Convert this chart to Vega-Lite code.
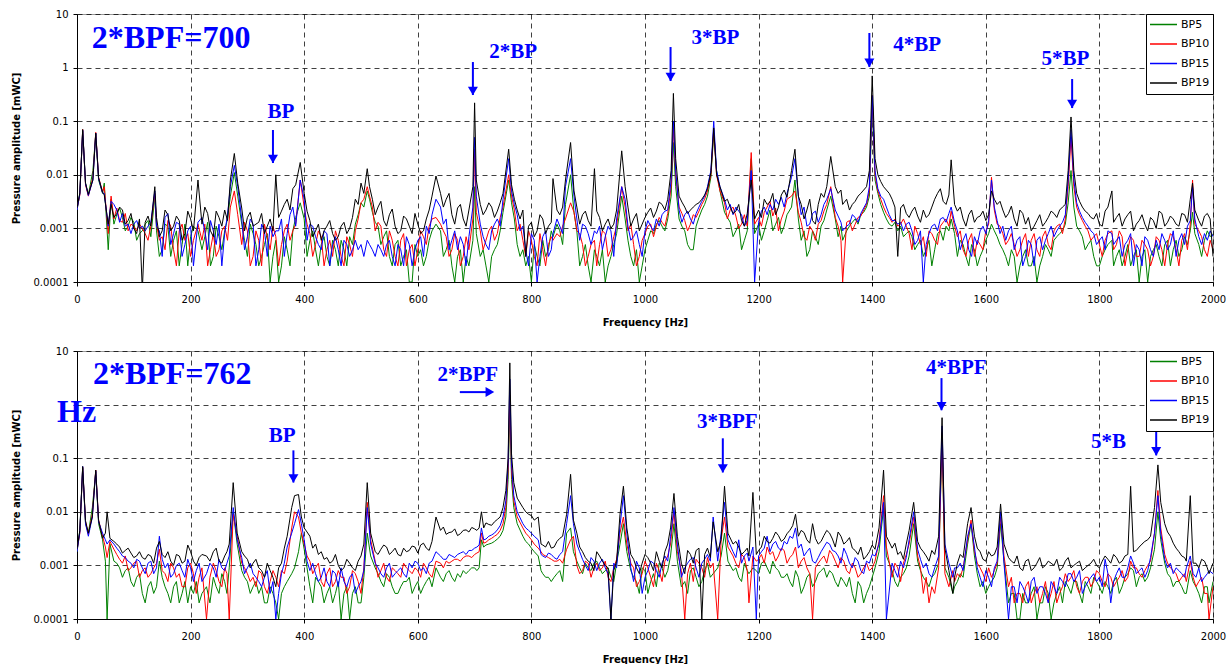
{
"$schema":"https://vega.github.io/schema/vega-lite/v6.json",
"background":"white",
"padding":{"left":10,"top":8,"right":0,"bottom":0},
"spacing":17,
"config":{
 "font":"DejaVu Sans",
 "view":{"stroke":"#999","strokeWidth":1},
 "axis":{"labelFont":"DejaVu Sans","labelFontSize":10,"labelColor":"#000","titleFont":"DejaVu Sans","titleFontSize":10,"titleFontWeight":"bold","titleColor":"#000","domainColor":"#000","tickColor":"#000","tickSize":4,"gridColor":"#000","gridDash":[5,4],"gridOpacity":0.75,"labelFlush":false,"labelOverlap":false},
 "axisX":{"labelPadding":8,"titlePadding":13},
 "axisY":{"labelPadding":5,"titlePadding":12},
 "legend":{"orient":"top-right","offset":0,"padding":3,"strokeColor":"#000","fillColor":"#fff","symbolType":"stroke","symbolSize":729,"symbolStrokeWidth":1.3,"labelFont":"DejaVu Sans","labelFontSize":11,"labelColor":"#000","clipHeight":15,"rowPadding":4.5,"labelOffset":3}
},
"datasets":{
"p1":[
{"f":0,"g":0.0022,"r":0.0023,"b":0.0022,"k":0.0024},
{"f":5,"g":0.0045,"r":0.0042,"b":0.0044,"k":0.0046},
{"f":10,"g":0.065,"r":0.07,"b":0.068,"k":0.07},
{"f":15,"g":0.007,"r":0.0065,"b":0.0068,"k":0.007},
{"f":20,"g":0.0042,"r":0.004,"b":0.0041,"k":0.0043},
{"f":28,"g":0.012,"r":0.009,"b":0.008,"k":0.008},
{"f":33,"g":0.058,"r":0.062,"b":0.06,"k":0.06},
{"f":38,"g":0.008,"r":0.009,"b":0.0085,"k":0.0088},
{"f":45,"g":0.0045,"r":0.0048,"b":0.0046,"k":0.0047},
{"f":48,"g":0.007,"r":0.006,"b":0.0045,"k":0.0042},
{"f":55,"g":0.0004,"r":0.0008,"b":0.0011,"k":0.0012},
{"f":60,"g":0.0035,"r":0.004,"b":0.0032,"k":0.0028},
{"f":70,"g":0.0018,"r":0.0024,"b":0.0022,"k":0.0019},
{"f":80,"g":0.0016,"r":0.0013,"b":0.0019,"k":0.0022},
{"f":90,"g":0.0011,"r":0.0009,"b":0.0012,"k":0.0014},
{"f":100,"g":0.0013,"r":0.0011,"b":0.0012,"k":0.001},
{"f":110,"g":0.0008,"r":0.0012,"b":0.001,"k":0.0015},
{"f":115,"g":0.0009,"r":0.001,"b":0.0011,"k":0.00007},
{"f":120,"g":0.0012,"r":0.0008,"b":0.0009,"k":0.0013},
{"f":130,"g":0.0007,"r":0.0011,"b":0.0013,"k":0.0011},
{"f":137,"g":0.004,"r":0.0045,"b":0.005,"k":0.006},
{"f":140,"g":0.0009,"r":0.0012,"b":0.0011,"k":0.0016},
{"f":150,"g":0.0004,"r":0.0007,"b":0.0003,"k":0.0009},
{"f":160,"g":0.0011,"r":0.0014,"b":0.0019,"k":0.0018},
{"f":170,"g":0.0006,"r":0.0004,"b":0.0008,"k":0.0011},
{"f":180,"g":0.0002,"r":0.0009,"b":0.0012,"k":0.0014},
{"f":190,"g":0.0012,"r":0.0006,"b":0.0005,"k":0.0008},
{"f":200,"g":0.0007,"r":0.0003,"b":0.0011,"k":0.0015},
{"f":213,"g":0.0009,"r":0.0012,"b":0.0013,"k":0.008},
{"f":220,"g":0.0004,"r":0.0006,"b":0.0016,"k":0.0012},
{"f":230,"g":0.0013,"r":0.0002,"b":0.0004,"k":0.0019},
{"f":240,"g":0.0003,"r":0.0008,"b":0.0009,"k":0.0007},
{"f":250,"g":0.0007,"r":0.0004,"b":0.0012,"k":0.0016},
{"f":260,"g":0.0009,"r":0.0011,"b":0.0008,"k":0.0022},
{"f":270,"g":0.004,"r":0.0025,"b":0.006,"k":0.008},
{"f":277,"g":0.011,"r":0.005,"b":0.015,"k":0.025},
{"f":283,"g":0.004,"r":0.0018,"b":0.006,"k":0.007},
{"f":290,"g":0.0012,"r":0.0005,"b":0.0015,"k":0.0024},
{"f":300,"g":0.0003,"r":0.0009,"b":0.0007,"k":0.0016},
{"f":310,"g":0.0008,"r":0.0003,"b":0.0012,"k":0.0011},
{"f":320,"g":0.0002,"r":0.0006,"b":0.0004,"k":0.0013},
{"f":330,"g":0.0005,"r":0.0012,"b":0.0009,"k":0.0008},
{"f":340,"g":0.0001,"r":0.0004,"b":0.0011,"k":0.0015},
{"f":350,"g":0.0006,"r":0.0007,"b":0.0009,"k":0.01},
{"f":360,"g":0.0002,"r":0.0005,"b":0.0015,"k":0.0021},
{"f":370,"g":0.0004,"r":0.0012,"b":0.0008,"k":0.0035},
{"f":380,"g":0.0009,"r":0.0009,"b":0.0025,"k":0.0055},
{"f":393,"g":0.003,"r":0.008,"b":0.008,"k":0.017},
{"f":400,"g":0.0015,"r":0.0025,"b":0.0035,"k":0.0045},
{"f":410,"g":0.0006,"r":0.0008,"b":0.0012,"k":0.0014},
{"f":420,"g":0.0004,"r":0.0005,"b":0.0007,"k":0.0009},
{"f":430,"g":0.0005,"r":0.0007,"b":0.0004,"k":0.0006},
{"f":440,"g":0.0003,"r":0.0004,"b":0.0008,"k":0.0011},
{"f":450,"g":0.0006,"r":0.0003,"b":0.0005,"k":0.0008},
{"f":460,"g":0.0002,"r":0.0006,"b":0.0004,"k":0.0007},
{"f":470,"g":0.0004,"r":0.0002,"b":0.0006,"k":0.0013},
{"f":480,"g":0.0007,"r":0.0005,"b":0.0003,"k":0.001},
{"f":490,"g":0.0012,"r":0.0009,"b":0.0006,"k":0.0035},
{"f":500,"g":0.003,"r":0.003,"b":0.0005,"k":0.007},
{"f":511,"g":0.005,"r":0.006,"b":0.0006,"k":0.013},
{"f":520,"g":0.002,"r":0.0025,"b":0.0004,"k":0.0035},
{"f":530,"g":0.0011,"r":0.0013,"b":0.0005,"k":0.0025},
{"f":540,"g":0.0007,"r":0.0004,"b":0.0003,"k":0.0014},
{"f":550,"g":0.0003,"r":0.0009,"b":0.0006,"k":0.0018},
{"f":560,"g":0.0005,"r":0.0003,"b":0.0002,"k":0.0011},
{"f":570,"g":0.0002,"r":0.0006,"b":0.0004,"k":0.0009},
{"f":580,"g":0.0004,"r":0.0002,"b":0.0007,"k":0.0015},
{"f":590,"g":0.0001,"r":0.0005,"b":0.0002,"k":0.0008},
{"f":600,"g":0.0003,"r":0.0004,"b":0.0006,"k":0.0012},
{"f":610,"g":0.0002,"r":0.0007,"b":0.0003,"k":0.0009},
{"f":620,"g":0.0006,"r":0.0011,"b":0.0008,"k":0.0022},
{"f":632,"g":0.0012,"r":0.0016,"b":0.0035,"k":0.0095},
{"f":640,"g":0.0009,"r":0.0012,"b":0.0025,"k":0.0045},
{"f":650,"g":0.0004,"r":0.0007,"b":0.0015,"k":0.0035},
{"f":660,"g":0.0002,"r":0.0004,"b":0.0006,"k":0.0018},
{"f":670,"g":0.0003,"r":0.0006,"b":0.0004,"k":0.0024},
{"f":680,"g":0.0001,"r":0.0003,"b":0.0005,"k":0.0015},
{"f":690,"g":0.0002,"r":0.0004,"b":0.0007,"k":0.0022},
{"f":697,"g":0.0006,"r":0.0015,"b":0.0025,"k":0.006},
{"f":700,"g":0.006,"r":0.03,"b":0.05,"k":0.22},
{"f":703,"g":0.0008,"r":0.002,"b":0.004,"k":0.008},
{"f":710,"g":0.0003,"r":0.0009,"b":0.0012,"k":0.0028},
{"f":720,"g":0.0002,"r":0.0006,"b":0.0005,"k":0.0022},
{"f":730,"g":0.0003,"r":0.0011,"b":0.0009,"k":0.0025},
{"f":740,"g":0.0005,"r":0.0008,"b":0.0015,"k":0.0021},
{"f":750,"g":0.002,"r":0.0025,"b":0.0035,"k":0.0045},
{"f":760,"g":0.008,"r":0.01,"b":0.02,"k":0.03},
{"f":765,"g":0.003,"r":0.004,"b":0.005,"k":0.0065},
{"f":770,"g":0.0015,"r":0.0022,"b":0.0028,"k":0.0035},
{"f":780,"g":0.0003,"r":0.0012,"b":0.0009,"k":0.0015},
{"f":790,"g":0.0002,"r":0.0003,"b":0.0004,"k":0.0003},
{"f":800,"g":0.0001,"r":0.0006,"b":0.0008,"k":0.0013},
{"f":810,"g":0.0003,"r":0.0002,"b":0.0001,"k":0.0009},
{"f":820,"g":0.0006,"r":0.0004,"b":0.0007,"k":0.0015},
{"f":830,"g":0.0004,"r":0.0005,"b":0.0003,"k":0.0011},
{"f":838,"g":0.0007,"r":0.0006,"b":0.0008,"k":0.0085},
{"f":845,"g":0.0012,"r":0.0008,"b":0.0015,"k":0.0022},
{"f":850,"g":0.0009,"r":0.0007,"b":0.0011,"k":0.0018},
{"f":860,"g":0.0028,"r":0.0015,"b":0.006,"k":0.008},
{"f":869,"g":0.01,"r":0.003,"b":0.02,"k":0.04},
{"f":875,"g":0.002,"r":0.002,"b":0.004,"k":0.005},
{"f":880,"g":0.0009,"r":0.0009,"b":0.0015,"k":0.0025},
{"f":890,"g":0.0003,"r":0.0005,"b":0.0012,"k":0.0018},
{"f":900,"g":0.0002,"r":0.0003,"b":0.0008,"k":0.0014},
{"f":911,"g":0.0004,"r":0.0006,"b":0.0009,"k":0.013},
{"f":920,"g":0.0002,"r":0.0005,"b":0.0011,"k":0.0016},
{"f":930,"g":0.0001,"r":0.0008,"b":0.0007,"k":0.0012},
{"f":940,"g":0.0003,"r":0.0004,"b":0.0009,"k":0.001},
{"f":950,"g":0.0008,"r":0.0011,"b":0.0015,"k":0.0022},
{"f":959,"g":0.004,"r":0.006,"b":0.006,"k":0.028},
{"f":965,"g":0.0015,"r":0.0025,"b":0.0035,"k":0.006},
{"f":970,"g":0.0006,"r":0.0009,"b":0.0011,"k":0.0025},
{"f":980,"g":0.0002,"r":0.0005,"b":0.0007,"k":0.0015},
{"f":990,"g":0.0001,"r":0.0003,"b":0.0005,"k":0.0009},
{"f":1000,"g":0.0004,"r":0.0008,"b":0.0009,"k":0.0016},
{"f":1010,"g":0.0009,"r":0.0012,"b":0.0011,"k":0.0024},
{"f":1020,"g":0.0012,"r":0.0011,"b":0.0015,"k":0.0021},
{"f":1030,"g":0.0011,"r":0.0013,"b":0.0018,"k":0.0028},
{"f":1040,"g":0.0015,"r":0.0019,"b":0.0022,"k":0.0035},
{"f":1046,"g":0.004,"r":0.006,"b":0.008,"k":0.012},
{"f":1050,"g":0.04,"r":0.08,"b":0.1,"k":0.33},
{"f":1054,"g":0.006,"r":0.01,"b":0.012,"k":0.02},
{"f":1060,"g":0.0015,"r":0.0025,"b":0.0022,"k":0.004},
{"f":1070,"g":0.0009,"r":0.0014,"b":0.0018,"k":0.0025},
{"f":1080,"g":0.0004,"r":0.0012,"b":0.0015,"k":0.0022},
{"f":1090,"g":0.0011,"r":0.0016,"b":0.0019,"k":0.0028},
{"f":1100,"g":0.0022,"r":0.0028,"b":0.0032,"k":0.0035},
{"f":1110,"g":0.004,"r":0.005,"b":0.006,"k":0.0055},
{"f":1116,"g":0.009,"r":0.01,"b":0.012,"k":0.011},
{"f":1121,"g":0.06,"r":0.07,"b":0.1,"k":0.075},
{"f":1126,"g":0.012,"r":0.01,"b":0.012,"k":0.01},
{"f":1132,"g":0.005,"r":0.005,"b":0.006,"k":0.006},
{"f":1140,"g":0.002,"r":0.003,"b":0.0035,"k":0.0032},
{"f":1150,"g":0.0013,"r":0.0022,"b":0.0028,"k":0.0025},
{"f":1160,"g":0.0009,"r":0.0017,"b":0.0025,"k":0.0021},
{"f":1170,"g":0.0004,"r":0.0012,"b":0.0018,"k":0.0014},
{"f":1180,"g":0.0009,"r":0.0011,"b":0.0014,"k":0.0019},
{"f":1187,"g":0.02,"r":0.026,"b":0.012,"k":0.008},
{"f":1193,"g":0.0008,"r":0.0012,"b":0.0001,"k":0.0015},
{"f":1200,"g":0.0012,"r":0.0016,"b":0.0013,"k":0.0022},
{"f":1210,"g":0.0009,"r":0.002,"b":0.0025,"k":0.0035},
{"f":1220,"g":0.0022,"r":0.0032,"b":0.0028,"k":0.0031},
{"f":1230,"g":0.0012,"r":0.0024,"b":0.0035,"k":0.0018},
{"f":1240,"g":0.0008,"r":0.0015,"b":0.0038,"k":0.0042},
{"f":1250,"g":0.0018,"r":0.0035,"b":0.0045,"k":0.0038},
{"f":1258,"g":0.0025,"r":0.004,"b":0.009,"k":0.012},
{"f":1264,"g":0.008,"r":0.005,"b":0.02,"k":0.03},
{"f":1270,"g":0.0015,"r":0.002,"b":0.004,"k":0.004},
{"f":1280,"g":0.0009,"r":0.0007,"b":0.0025,"k":0.0015},
{"f":1290,"g":0.0004,"r":0.0011,"b":0.0012,"k":0.0035},
{"f":1300,"g":0.0007,"r":0.0006,"b":0.0021,"k":0.0012},
{"f":1310,"g":0.0011,"r":0.0014,"b":0.0018,"k":0.0045},
{"f":1320,"g":0.0022,"r":0.0028,"b":0.0035,"k":0.006},
{"f":1327,"g":0.004,"r":0.006,"b":0.0055,"k":0.022},
{"f":1335,"g":0.0015,"r":0.0016,"b":0.0022,"k":0.006},
{"f":1340,"g":0.0007,"r":0.0011,"b":0.0017,"k":0.0045},
{"f":1348,"g":0.0006,"r":0.0001,"b":0.0009,"k":0.0028},
{"f":1355,"g":0.0009,"r":0.0013,"b":0.0011,"k":0.0035},
{"f":1360,"g":0.0011,"r":0.0014,"b":0.0012,"k":0.0022},
{"f":1370,"g":0.0015,"r":0.0012,"b":0.0016,"k":0.0032},
{"f":1380,"g":0.0018,"r":0.0017,"b":0.0019,"k":0.0045},
{"f":1390,"g":0.0025,"r":0.0028,"b":0.003,"k":0.006},
{"f":1395,"g":0.004,"r":0.005,"b":0.006,"k":0.012},
{"f":1400,"g":0.2,"r":0.3,"b":0.3,"k":0.7},
{"f":1405,"g":0.008,"r":0.01,"b":0.012,"k":0.02},
{"f":1410,"g":0.0045,"r":0.005,"b":0.0055,"k":0.01},
{"f":1420,"g":0.002,"r":0.0025,"b":0.0035,"k":0.006},
{"f":1430,"g":0.0012,"r":0.0016,"b":0.0018,"k":0.0045},
{"f":1440,"g":0.0013,"r":0.0015,"b":0.0014,"k":0.0025},
{"f":1445,"g":0.0009,"r":0.0011,"b":0.0012,"k":0.0003},
{"f":1450,"g":0.0011,"r":0.0012,"b":0.0013,"k":0.0024},
{"f":1460,"g":0.0008,"r":0.0011,"b":0.0012,"k":0.0019},
{"f":1470,"g":0.0007,"r":0.0004,"b":0.0009,"k":0.0021},
{"f":1480,"g":0.0005,"r":0.0008,"b":0.0006,"k":0.0017},
{"f":1490,"g":0.0003,"r":0.0007,"b":0.0001,"k":0.0022},
{"f":1500,"g":0.0006,"r":0.0009,"b":0.0008,"k":0.0018},
{"f":1510,"g":0.0004,"r":0.0006,"b":0.0012,"k":0.0035},
{"f":1520,"g":0.0009,"r":0.0011,"b":0.0015,"k":0.0055},
{"f":1530,"g":0.0011,"r":0.0015,"b":0.0013,"k":0.0028},
{"f":1539,"g":0.0015,"r":0.0021,"b":0.0025,"k":0.019},
{"f":1545,"g":0.0008,"r":0.0011,"b":0.0013,"k":0.0028},
{"f":1550,"g":0.0003,"r":0.0007,"b":0.0009,"k":0.0021},
{"f":1560,"g":0.0005,"r":0.0004,"b":0.0006,"k":0.0015},
{"f":1570,"g":0.0002,"r":0.0006,"b":0.0004,"k":0.0018},
{"f":1580,"g":0.0004,"r":0.0003,"b":0.0007,"k":0.0013},
{"f":1590,"g":0.0003,"r":0.0005,"b":0.0009,"k":0.0017},
{"f":1600,"g":0.0006,"r":0.0009,"b":0.0008,"k":0.0014},
{"f":1610,"g":0.0012,"r":0.009,"b":0.008,"k":0.005},
{"f":1615,"g":0.0009,"r":0.0022,"b":0.0025,"k":0.0035},
{"f":1620,"g":0.0007,"r":0.0012,"b":0.0014,"k":0.0028},
{"f":1630,"g":0.0004,"r":0.0008,"b":0.0011,"k":0.0022},
{"f":1640,"g":0.0002,"r":0.0006,"b":0.0009,"k":0.0019},
{"f":1650,"g":0.0003,"r":0.0005,"b":0.0004,"k":0.0015},
{"f":1660,"g":0.0002,"r":0.0004,"b":0.0007,"k":0.0022},
{"f":1670,"g":0.0004,"r":0.0008,"b":0.0003,"k":0.0012},
{"f":1680,"g":0.0002,"r":0.0006,"b":0.0005,"k":0.0009},
{"f":1690,"g":0.0001,"r":0.0004,"b":0.0006,"k":0.0014},
{"f":1700,"g":0.0003,"r":0.0007,"b":0.0004,"k":0.0011},
{"f":1710,"g":0.0004,"r":0.0005,"b":0.0008,"k":0.0016},
{"f":1720,"g":0.0006,"r":0.0009,"b":0.0007,"k":0.0019},
{"f":1730,"g":0.0008,"r":0.0012,"b":0.0011,"k":0.0022},
{"f":1740,"g":0.0012,"r":0.0015,"b":0.0018,"k":0.0028},
{"f":1745,"g":0.003,"r":0.006,"b":0.008,"k":0.012},
{"f":1750,"g":0.012,"r":0.05,"b":0.07,"k":0.12},
{"f":1755,"g":0.0025,"r":0.006,"b":0.008,"k":0.012},
{"f":1760,"g":0.0011,"r":0.0025,"b":0.003,"k":0.0045},
{"f":1770,"g":0.0007,"r":0.0014,"b":0.0016,"k":0.0025},
{"f":1780,"g":0.0005,"r":0.0009,"b":0.0011,"k":0.0019},
{"f":1790,"g":0.0003,"r":0.0007,"b":0.0008,"k":0.0015},
{"f":1800,"g":0.0002,"r":0.0005,"b":0.0006,"k":0.0012},
{"f":1810,"g":0.0004,"r":0.0006,"b":0.0004,"k":0.0021},
{"f":1822,"g":0.0006,"r":0.0009,"b":0.0008,"k":0.005},
{"f":1830,"g":0.0003,"r":0.0005,"b":0.0006,"k":0.0016},
{"f":1840,"g":0.0002,"r":0.0007,"b":0.0003,"k":0.0011},
{"f":1850,"g":0.0005,"r":0.0004,"b":0.0006,"k":0.0018},
{"f":1860,"g":0.0003,"r":0.0006,"b":0.0002,"k":0.0009},
{"f":1870,"g":0.0001,"r":0.0003,"b":0.0004,"k":0.0014},
{"f":1880,"g":0.0004,"r":0.0005,"b":0.0007,"k":0.0012},
{"f":1890,"g":0.0003,"r":0.0002,"b":0.0004,"k":0.0016},
{"f":1900,"g":0.0005,"r":0.0007,"b":0.0006,"k":0.001},
{"f":1910,"g":0.0002,"r":0.0004,"b":0.0008,"k":0.0019},
{"f":1920,"g":0.0006,"r":0.0005,"b":0.0004,"k":0.0013},
{"f":1930,"g":0.0004,"r":0.0007,"b":0.0009,"k":0.0015},
{"f":1940,"g":0.0003,"r":0.0002,"b":0.0006,"k":0.0011},
{"f":1950,"g":0.0007,"r":0.0008,"b":0.0005,"k":0.0018},
{"f":1960,"g":0.0009,"r":0.0012,"b":0.0014,"k":0.0035},
{"f":1964,"g":0.002,"r":0.008,"b":0.006,"k":0.007},
{"f":1968,"g":0.0008,"r":0.0012,"b":0.0015,"k":0.0022},
{"f":1975,"g":0.0005,"r":0.0009,"b":0.0007,"k":0.0014},
{"f":1985,"g":0.0006,"r":0.0004,"b":0.0008,"k":0.0017},
{"f":1995,"g":0.0007,"r":0.0006,"b":0.0009,"k":0.0015},
{"f":2000,"g":0.0008,"r":0.0004,"b":0.0007,"k":0.0003},
{"f":65,"g":0.0012,"r":0.0015,"b":0.0028,"k":0.0016},
{"f":75,"g":0.0024,"r":0.0014,"b":0.0013,"k":0.0025},
{"f":85,"g":0.0009,"r":0.0019,"b":0.0011,"k":0.0012},
{"f":95,"g":0.0016,"r":0.0012,"b":0.0008,"k":0.0019},
{"f":105,"g":0.0006,"r":0.0009,"b":0.0014,"k":0.0008},
{"f":125,"g":0.0014,"r":0.0006,"b":0.0011,"k":0.0017},
{"f":145,"g":0.0003,"r":0.0006,"b":0.0009,"k":0.0007},
{"f":155,"g":0.0012,"r":0.0004,"b":0.0016,"k":0.0022},
{"f":165,"g":0.0003,"r":0.0011,"b":0.0005,"k":0.0009},
{"f":175,"g":0.0009,"r":0.0002,"b":0.0013,"k":0.0017},
{"f":185,"g":0.0005,"r":0.0012,"b":0.0003,"k":0.0006},
{"f":195,"g":0.0002,"r":0.0008,"b":0.0009,"k":0.0021},
{"f":205,"g":0.0011,"r":0.0006,"b":0.0002,"k":0.0009},
{"f":225,"g":0.0007,"r":0.0012,"b":0.0009,"k":0.0025},
{"f":235,"g":0.0002,"r":0.0004,"b":0.0014,"k":0.0009},
{"f":245,"g":0.0011,"r":0.0003,"b":0.0005,"k":0.0021},
{"f":255,"g":0.0004,"r":0.0009,"b":0.0002,"k":0.0011},
{"f":265,"g":0.0015,"r":0.0006,"b":0.0018,"k":0.0014},
{"f":295,"g":0.0006,"r":0.0013,"b":0.0004,"k":0.0009},
{"f":305,"g":0.0012,"r":0.0002,"b":0.0015,"k":0.002},
{"f":315,"g":0.0005,"r":0.0009,"b":0.0002,"k":0.0012},
{"f":325,"g":0.0003,"r":0.0002,"b":0.0012,"k":0.0019},
{"f":335,"g":0.0008,"r":0.0007,"b":0.0003,"k":0.0011},
{"f":345,"g":0.0003,"r":0.0011,"b":0.0007,"k":0.0009},
{"f":355,"g":0.0001,"r":0.0002,"b":0.0009,"k":0.0016},
{"f":365,"g":0.0007,"r":0.0009,"b":0.0003,"k":0.0028},
{"f":375,"g":0.0002,"r":0.0006,"b":0.0018,"k":0.0022},
{"f":385,"g":0.0016,"r":0.0012,"b":0.0011,"k":0.0065},
{"f":405,"g":0.0003,"r":0.0012,"b":0.0006,"k":0.0021},
{"f":415,"g":0.0009,"r":0.0003,"b":0.0011,"k":0.0007},
{"f":425,"g":0.0002,"r":0.0009,"b":0.0005,"k":0.0012},
{"f":435,"g":0.0007,"r":0.0002,"b":0.0009,"k":0.0009},
{"f":445,"g":0.0002,"r":0.0006,"b":0.0002,"k":0.0014},
{"f":455,"g":0.0004,"r":0.0009,"b":0.0007,"k":0.0006},
{"f":465,"g":0.0006,"r":0.0003,"b":0.0002,"k":0.0011},
{"f":475,"g":0.0002,"r":0.0007,"b":0.0005,"k":0.0008},
{"f":485,"g":0.0005,"r":0.0003,"b":0.0004,"k":0.0016},
{"f":495,"g":0.0018,"r":0.0015,"b":0.0004,"k":0.0028},
{"f":505,"g":0.0025,"r":0.0035,"b":0.0003,"k":0.0045},
{"f":515,"g":0.0035,"r":0.004,"b":0.0005,"k":0.006},
{"f":525,"g":0.0013,"r":0.0009,"b":0.0003,"k":0.0018},
{"f":535,"g":0.0005,"r":0.0011,"b":0.0004,"k":0.0032},
{"f":545,"g":0.0009,"r":0.0003,"b":0.0005,"k":0.0011},
{"f":555,"g":0.0002,"r":0.0006,"b":0.0003,"k":0.0023},
{"f":565,"g":0.0006,"r":0.0002,"b":0.0005,"k":0.0008},
{"f":575,"g":0.0003,"r":0.0008,"b":0.0002,"k":0.0017},
{"f":585,"g":0.0001,"r":0.0004,"b":0.0005,"k":0.0011},
{"f":595,"g":0.0005,"r":0.0002,"b":0.0004,"k":0.0019},
{"f":605,"g":0.0004,"r":0.0009,"b":0.0007,"k":0.0008},
{"f":615,"g":0.0003,"r":0.0005,"b":0.0011,"k":0.0015},
{"f":625,"g":0.0009,"r":0.0015,"b":0.0018,"k":0.004},
{"f":645,"g":0.0003,"r":0.0009,"b":0.0012,"k":0.0025},
{"f":655,"g":0.0006,"r":0.0003,"b":0.0004,"k":0.0045},
{"f":665,"g":0.0001,"r":0.0008,"b":0.0009,"k":0.0012},
{"f":675,"g":0.0004,"r":0.0002,"b":0.0007,"k":0.0028},
{"f":685,"g":0.0003,"r":0.0007,"b":0.0002,"k":0.0011},
{"f":715,"g":0.0004,"r":0.0004,"b":0.0007,"k":0.0018},
{"f":725,"g":0.0001,"r":0.0009,"b":0.0004,"k":0.003},
{"f":735,"g":0.0004,"r":0.0006,"b":0.0012,"k":0.0016},
{"f":745,"g":0.0009,"r":0.0016,"b":0.0011,"k":0.003},
{"f":775,"g":0.0005,"r":0.0009,"b":0.0018,"k":0.0022},
{"f":785,"g":0.0004,"r":0.0006,"b":0.0011,"k":0.0022},
{"f":795,"g":0.0003,"r":0.0009,"b":0.0002,"k":0.0011},
{"f":805,"g":0.0005,"r":0.0003,"b":0.0006,"k":0.0007},
{"f":815,"g":0.0002,"r":0.0008,"b":0.0003,"k":0.0018},
{"f":825,"g":0.0003,"r":0.0002,"b":0.0009,"k":0.0008},
{"f":835,"g":0.0009,"r":0.0007,"b":0.0004,"k":0.0013},
{"f":855,"g":0.0005,"r":0.0011,"b":0.0008,"k":0.0025},
{"f":885,"g":0.0002,"r":0.0008,"b":0.0006,"k":0.0012},
{"f":895,"g":0.0005,"r":0.0002,"b":0.0011,"k":0.0021},
{"f":905,"g":0.0001,"r":0.0005,"b":0.0005,"k":0.0011},
{"f":915,"g":0.0003,"r":0.0002,"b":0.0008,"k":0.0021},
{"f":925,"g":0.0004,"r":0.0009,"b":0.0004,"k":0.0009},
{"f":935,"g":0.0002,"r":0.0003,"b":0.0011,"k":0.0015},
{"f":945,"g":0.0005,"r":0.0007,"b":0.0003,"k":0.0012},
{"f":975,"g":0.0003,"r":0.0012,"b":0.0006,"k":0.0011},
{"f":985,"g":0.0004,"r":0.0002,"b":0.0009,"k":0.0019},
{"f":995,"g":0.0002,"r":0.0006,"b":0.0003,"k":0.0012},
{"f":1005,"g":0.0006,"r":0.0011,"b":0.0014,"k":0.002},
{"f":1015,"g":0.0008,"r":0.0007,"b":0.0009,"k":0.0016},
{"f":1025,"g":0.0014,"r":0.0016,"b":0.0011,"k":0.0031},
{"f":1035,"g":0.0009,"r":0.0011,"b":0.0021,"k":0.0022},
{"f":1065,"g":0.0011,"r":0.0019,"b":0.0013,"k":0.0031},
{"f":1075,"g":0.0005,"r":0.0009,"b":0.0021,"k":0.0019},
{"f":1085,"g":0.0004,"r":0.0018,"b":0.0012,"k":0.0025},
{"f":1095,"g":0.0016,"r":0.0021,"b":0.0025,"k":0.003},
{"f":1105,"g":0.0028,"r":0.0035,"b":0.004,"k":0.0042},
{"f":1145,"g":0.0016,"r":0.0015,"b":0.0022,"k":0.0035},
{"f":1155,"g":0.0007,"r":0.0025,"b":0.0018,"k":0.0019},
{"f":1165,"g":0.0012,"r":0.001,"b":0.0021,"k":0.0028},
{"f":1175,"g":0.0006,"r":0.0018,"b":0.0011,"k":0.0011},
{"f":1205,"g":0.0006,"r":0.0011,"b":0.0021,"k":0.0016},
{"f":1215,"g":0.0014,"r":0.0025,"b":0.0018,"k":0.0028},
{"f":1225,"g":0.0009,"r":0.0017,"b":0.0022,"k":0.0045},
{"f":1235,"g":0.0016,"r":0.0009,"b":0.0028,"k":0.0025},
{"f":1245,"g":0.0011,"r":0.0021,"b":0.0025,"k":0.0052},
{"f":1275,"g":0.0006,"r":0.0013,"b":0.0018,"k":0.0028},
{"f":1285,"g":0.0003,"r":0.0006,"b":0.0011,"k":0.0022},
{"f":1295,"g":0.0009,"r":0.0009,"b":0.0019,"k":0.0014},
{"f":1305,"g":0.0005,"r":0.0012,"b":0.0013,"k":0.0028},
{"f":1315,"g":0.0014,"r":0.0021,"b":0.0028,"k":0.0038},
{"f":1345,"g":0.0011,"r":0.0006,"b":0.0013,"k":0.0052},
{"f":1365,"g":0.0013,"r":0.0009,"b":0.0018,"k":0.0028},
{"f":1375,"g":0.0012,"r":0.0016,"b":0.0013,"k":0.004},
{"f":1385,"g":0.002,"r":0.0022,"b":0.0024,"k":0.0052},
{"f":1415,"g":0.0028,"r":0.0035,"b":0.004,"k":0.0075},
{"f":1425,"g":0.0015,"r":0.0019,"b":0.0025,"k":0.0052},
{"f":1435,"g":0.0011,"r":0.0013,"b":0.0014,"k":0.0035},
{"f":1455,"g":0.0007,"r":0.0015,"b":0.0009,"k":0.0028},
{"f":1465,"g":0.0009,"r":0.0008,"b":0.0013,"k":0.0016},
{"f":1475,"g":0.0004,"r":0.0011,"b":0.0005,"k":0.0025},
{"f":1485,"g":0.0006,"r":0.0005,"b":0.0009,"k":0.0013},
{"f":1495,"g":0.0004,"r":0.0003,"b":0.0005,"k":0.0016},
{"f":1505,"g":0.0002,"r":0.0008,"b":0.0011,"k":0.0025},
{"f":1515,"g":0.0008,"r":0.0005,"b":0.0009,"k":0.0045},
{"f":1525,"g":0.0006,"r":0.0013,"b":0.0016,"k":0.0032},
{"f":1535,"g":0.0009,"r":0.0011,"b":0.0019,"k":0.0042},
{"f":1555,"g":0.0006,"r":0.0009,"b":0.0004,"k":0.0025},
{"f":1565,"g":0.0003,"r":0.0003,"b":0.0008,"k":0.0011},
{"f":1575,"g":0.0005,"r":0.0008,"b":0.0003,"k":0.0022},
{"f":1585,"g":0.0002,"r":0.0006,"b":0.0005,"k":0.0016},
{"f":1595,"g":0.0004,"r":0.0004,"b":0.0011,"k":0.0021},
{"f":1605,"g":0.0008,"r":0.0012,"b":0.0014,"k":0.0018},
{"f":1625,"g":0.0005,"r":0.0011,"b":0.0008,"k":0.0032},
{"f":1635,"g":0.0003,"r":0.0005,"b":0.0006,"k":0.0016},
{"f":1645,"g":0.0004,"r":0.0008,"b":0.0011,"k":0.0026},
{"f":1655,"g":0.0001,"r":0.0003,"b":0.0006,"k":0.0011},
{"f":1665,"g":0.0003,"r":0.0006,"b":0.0002,"k":0.0019},
{"f":1675,"g":0.0002,"r":0.0003,"b":0.0006,"k":0.0016},
{"f":1685,"g":0.0003,"r":0.0008,"b":0.0002,"k":0.0011},
{"f":1695,"g":0.0002,"r":0.0003,"b":0.0007,"k":0.0018},
{"f":1705,"g":0.0005,"r":0.0009,"b":0.0006,"k":0.0013},
{"f":1715,"g":0.0003,"r":0.0004,"b":0.0011,"k":0.0021},
{"f":1725,"g":0.0007,"r":0.0011,"b":0.0009,"k":0.0016},
{"f":1735,"g":0.0009,"r":0.0008,"b":0.0013,"k":0.0025},
{"f":1765,"g":0.0009,"r":0.0018,"b":0.0021,"k":0.0032},
{"f":1775,"g":0.0004,"r":0.0011,"b":0.0013,"k":0.0021},
{"f":1785,"g":0.0006,"r":0.0006,"b":0.0009,"k":0.0016},
{"f":1795,"g":0.0002,"r":0.0008,"b":0.0005,"k":0.0019},
{"f":1805,"g":0.0003,"r":0.0003,"b":0.0007,"k":0.0011},
{"f":1815,"g":0.0005,"r":0.0008,"b":0.0009,"k":0.0025},
{"f":1825,"g":0.0002,"r":0.0004,"b":0.0005,"k":0.0013},
{"f":1835,"g":0.0004,"r":0.0009,"b":0.0007,"k":0.0019},
{"f":1845,"g":0.0003,"r":0.0002,"b":0.0005,"k":0.0015},
{"f":1855,"g":0.0002,"r":0.0007,"b":0.0008,"k":0.0021},
{"f":1865,"g":0.0004,"r":0.0003,"b":0.0005,"k":0.0012},
{"f":1875,"g":0.0003,"r":0.0006,"b":0.0002,"k":0.0018},
{"f":1885,"g":0.0001,"r":0.0004,"b":0.0006,"k":0.0009},
{"f":1895,"g":0.0004,"r":0.0003,"b":0.0003,"k":0.0014},
{"f":1905,"g":0.0003,"r":0.0006,"b":0.0004,"k":0.0021},
{"f":1915,"g":0.0005,"r":0.0002,"b":0.0006,"k":0.0011},
{"f":1925,"g":0.0002,"r":0.0008,"b":0.0005,"k":0.0017},
{"f":1935,"g":0.0006,"r":0.0004,"b":0.0003,"k":0.0012},
{"f":1945,"g":0.0004,"r":0.0006,"b":0.0008,"k":0.0019},
{"f":1955,"g":0.0005,"r":0.0004,"b":0.0011,"k":0.0013},
{"f":1980,"g":0.0003,"r":0.0007,"b":0.0005,"k":0.0011},
{"f":1990,"g":0.0009,"r":0.0003,"b":0.0006,"k":0.0019}
],
"p2":[
{"f":0,"g":0.0018,"r":0.0019,"b":0.0018,"k":0.002},
{"f":5,"g":0.0045,"r":0.004,"b":0.0042,"k":0.0045},
{"f":10,"g":0.065,"r":0.068,"b":0.07,"k":0.07},
{"f":15,"g":0.006,"r":0.0065,"b":0.006,"k":0.0068},
{"f":20,"g":0.004,"r":0.0038,"b":0.0035,"k":0.004},
{"f":27,"g":0.012,"r":0.009,"b":0.008,"k":0.008},
{"f":33,"g":0.055,"r":0.06,"b":0.058,"k":0.06},
{"f":38,"g":0.006,"r":0.007,"b":0.0065,"k":0.007},
{"f":45,"g":0.003,"r":0.0035,"b":0.004,"k":0.0032},
{"f":53,"g":0.0001,"r":0.0014,"b":0.0025,"k":0.01},
{"f":58,"g":0.0025,"r":0.0028,"b":0.003,"k":0.0032},
{"f":65,"g":0.0012,"r":0.002,"b":0.0025,"k":0.0028},
{"f":75,"g":0.0009,"r":0.0013,"b":0.0018,"k":0.0022},
{"f":85,"g":0.0008,"r":0.0015,"b":0.0014,"k":0.0019},
{"f":95,"g":0.0005,"r":0.0009,"b":0.0011,"k":0.0017},
{"f":105,"g":0.0006,"r":0.0012,"b":0.0013,"k":0.0015},
{"f":115,"g":0.0003,"r":0.0008,"b":0.0009,"k":0.0014},
{"f":125,"g":0.0004,"r":0.0006,"b":0.0011,"k":0.0016},
{"f":135,"g":0.0003,"r":0.0009,"b":0.0007,"k":0.0011},
{"f":145,"g":0.0012,"r":0.002,"b":0.0035,"k":0.0028},
{"f":155,"g":0.0004,"r":0.0007,"b":0.0009,"k":0.0014},
{"f":165,"g":0.0002,"r":0.0011,"b":0.0006,"k":0.0012},
{"f":175,"g":0.0005,"r":0.0006,"b":0.001,"k":0.0016},
{"f":185,"g":0.0003,"r":0.0004,"b":0.0008,"k":0.0011},
{"f":195,"g":0.0002,"r":0.0009,"b":0.0013,"k":0.0024},
{"f":205,"g":0.0003,"r":0.0007,"b":0.0005,"k":0.0012},
{"f":215,"g":0.0002,"r":0.0006,"b":0.0011,"k":0.0014},
{"f":228,"g":0.0004,"r":0.0001,"b":0.0007,"k":0.0015},
{"f":240,"g":0.0006,"r":0.0011,"b":0.0009,"k":0.0018},
{"f":250,"g":0.0003,"r":0.0005,"b":0.0013,"k":0.0012},
{"f":260,"g":0.0005,"r":0.0009,"b":0.0008,"k":0.0015},
{"f":268,"g":0.0009,"r":0.0001,"b":0.0015,"k":0.0025},
{"f":275,"g":0.01,"r":0.009,"b":0.012,"k":0.035},
{"f":282,"g":0.0025,"r":0.0035,"b":0.003,"k":0.004},
{"f":290,"g":0.0008,"r":0.0011,"b":0.0014,"k":0.0018},
{"f":300,"g":0.0005,"r":0.0007,"b":0.0009,"k":0.0013},
{"f":310,"g":0.0004,"r":0.0006,"b":0.0007,"k":0.0011},
{"f":320,"g":0.0003,"r":0.0008,"b":0.0005,"k":0.0009},
{"f":330,"g":0.0002,"r":0.0004,"b":0.0006,"k":0.0006},
{"f":340,"g":0.0004,"r":0.0005,"b":0.0003,"k":0.0008},
{"f":350,"g":0.0002,"r":0.0006,"b":0.0001,"k":0.0004},
{"f":360,"g":0.0003,"r":0.0008,"b":0.0007,"k":0.0011},
{"f":370,"g":0.0005,"r":0.0012,"b":0.0022,"k":0.0035},
{"f":378,"g":0.0007,"r":0.005,"b":0.004,"k":0.012},
{"f":383,"g":0.0009,"r":0.01,"b":0.006,"k":0.02},
{"f":390,"g":0.0018,"r":0.008,"b":0.011,"k":0.021},
{"f":395,"g":0.004,"r":0.004,"b":0.006,"k":0.008},
{"f":400,"g":0.002,"r":0.0025,"b":0.003,"k":0.005},
{"f":410,"g":0.0004,"r":0.0012,"b":0.0008,"k":0.0035},
{"f":420,"g":0.0006,"r":0.0009,"b":0.0007,"k":0.0025},
{"f":430,"g":0.0004,"r":0.0005,"b":0.0006,"k":0.0018},
{"f":440,"g":0.0003,"r":0.0007,"b":0.0005,"k":0.0014},
{"f":450,"g":0.0002,"r":0.0004,"b":0.0008,"k":0.0012},
{"f":460,"g":0.0005,"r":0.0008,"b":0.0004,"k":0.001},
{"f":470,"g":0.0003,"r":0.0006,"b":0.0005,"k":0.0009},
{"f":480,"g":0.0001,"r":0.0004,"b":0.0006,"k":0.0011},
{"f":490,"g":0.0004,"r":0.0007,"b":0.0003,"k":0.0008},
{"f":500,"g":0.0002,"r":0.0003,"b":0.0005,"k":0.0015},
{"f":505,"g":0.0006,"r":0.0009,"b":0.0008,"k":0.0025},
{"f":511,"g":0.004,"r":0.015,"b":0.012,"k":0.035},
{"f":517,"g":0.0015,"r":0.003,"b":0.0025,"k":0.004},
{"f":525,"g":0.0009,"r":0.0012,"b":0.0011,"k":0.0018},
{"f":535,"g":0.0005,"r":0.0008,"b":0.0007,"k":0.002},
{"f":545,"g":0.0007,"r":0.0006,"b":0.0009,"k":0.0022},
{"f":555,"g":0.0004,"r":0.0009,"b":0.0006,"k":0.0018},
{"f":565,"g":0.0003,"r":0.0007,"b":0.0008,"k":0.0016},
{"f":575,"g":0.0005,"r":0.0011,"b":0.0007,"k":0.0021},
{"f":585,"g":0.0006,"r":0.0008,"b":0.0011,"k":0.0019},
{"f":595,"g":0.0004,"r":0.0009,"b":0.0012,"k":0.0022},
{"f":605,"g":0.0003,"r":0.0006,"b":0.0008,"k":0.0024},
{"f":615,"g":0.0005,"r":0.0009,"b":0.0007,"k":0.0021},
{"f":625,"g":0.0004,"r":0.0006,"b":0.0012,"k":0.0028},
{"f":632,"g":0.0009,"r":0.0012,"b":0.0018,"k":0.008},
{"f":640,"g":0.0006,"r":0.0011,"b":0.0015,"k":0.0045},
{"f":650,"g":0.0007,"r":0.0012,"b":0.0013,"k":0.0038},
{"f":660,"g":0.0006,"r":0.0012,"b":0.0015,"k":0.0042},
{"f":670,"g":0.0007,"r":0.0013,"b":0.0016,"k":0.0036},
{"f":680,"g":0.0008,"r":0.0014,"b":0.0018,"k":0.0045},
{"f":690,"g":0.0008,"r":0.0015,"b":0.0019,"k":0.0042},
{"f":700,"g":0.0009,"r":0.0016,"b":0.0021,"k":0.0048},
{"f":708,"g":0.0009,"r":0.0018,"b":0.0024,"k":0.005},
{"f":712,"g":0.003,"r":0.004,"b":0.005,"k":0.01},
{"f":716,"g":0.0022,"r":0.0026,"b":0.003,"k":0.005},
{"f":725,"g":0.0025,"r":0.003,"b":0.0035,"k":0.0058},
{"f":735,"g":0.0028,"r":0.0035,"b":0.004,"k":0.0065},
{"f":745,"g":0.0035,"r":0.0045,"b":0.0055,"k":0.008},
{"f":750,"g":0.0045,"r":0.006,"b":0.008,"k":0.012},
{"f":755,"g":0.008,"r":0.012,"b":0.016,"k":0.025},
{"f":759,"g":0.04,"r":0.06,"b":0.08,"k":0.1},
{"f":762,"g":0.8,"r":1.5,"b":3,"k":6},
{"f":765,"g":0.04,"r":0.06,"b":0.08,"k":0.12},
{"f":769,"g":0.012,"r":0.016,"b":0.02,"k":0.035},
{"f":775,"g":0.006,"r":0.008,"b":0.01,"k":0.018},
{"f":785,"g":0.0035,"r":0.005,"b":0.006,"k":0.012},
{"f":795,"g":0.0025,"r":0.0035,"b":0.0045,"k":0.009},
{"f":805,"g":0.0018,"r":0.0025,"b":0.0035,"k":0.007},
{"f":812,"g":0.0015,"r":0.0021,"b":0.003,"k":0.008},
{"f":817,"g":0.0008,"r":0.0018,"b":0.0016,"k":0.0025},
{"f":825,"g":0.0006,"r":0.0015,"b":0.0014,"k":0.0022},
{"f":835,"g":0.0005,"r":0.0013,"b":0.0016,"k":0.0021},
{"f":845,"g":0.0007,"r":0.0012,"b":0.0013,"k":0.0028},
{"f":855,"g":0.0005,"r":0.0011,"b":0.0018,"k":0.0035},
{"f":862,"g":0.004,"r":0.002,"b":0.006,"k":0.009},
{"f":869,"g":0.005,"r":0.003,"b":0.02,"k":0.05},
{"f":874,"g":0.0018,"r":0.0035,"b":0.006,"k":0.007},
{"f":880,"g":0.0012,"r":0.001,"b":0.0025,"k":0.004},
{"f":890,"g":0.0007,"r":0.0008,"b":0.0013,"k":0.0018},
{"f":900,"g":0.0009,"r":0.0011,"b":0.0008,"k":0.0012},
{"f":910,"g":0.0011,"r":0.0009,"b":0.0012,"k":0.0008},
{"f":920,"g":0.0009,"r":0.0008,"b":0.0011,"k":0.0015},
{"f":930,"g":0.0008,"r":0.0012,"b":0.0009,"k":0.001},
{"f":940,"g":0.0006,"r":0.0005,"b":0.0001,"k":0.0001},
{"f":950,"g":0.0011,"r":0.0013,"b":0.0009,"k":0.0012},
{"f":956,"g":0.0025,"r":0.004,"b":0.0055,"k":0.009},
{"f":962,"g":0.006,"r":0.008,"b":0.02,"k":0.03},
{"f":968,"g":0.0018,"r":0.0025,"b":0.004,"k":0.005},
{"f":975,"g":0.0008,"r":0.0011,"b":0.0009,"k":0.0016},
{"f":985,"g":0.0005,"r":0.0004,"b":0.0012,"k":0.0009},
{"f":995,"g":0.0009,"r":0.0007,"b":0.0003,"k":0.0011},
{"f":1005,"g":0.0003,"r":0.0009,"b":0.0008,"k":0.0014},
{"f":1015,"g":0.0007,"r":0.0004,"b":0.0011,"k":0.0008},
{"f":1025,"g":0.0011,"r":0.0008,"b":0.0006,"k":0.0012},
{"f":1035,"g":0.0006,"r":0.0012,"b":0.0015,"k":0.0018},
{"f":1045,"g":0.0015,"r":0.0025,"b":0.0035,"k":0.005},
{"f":1051,"g":0.006,"r":0.01,"b":0.012,"k":0.022},
{"f":1057,"g":0.0012,"r":0.0018,"b":0.0025,"k":0.0035},
{"f":1064,"g":0.0004,"r":0.0008,"b":0.0006,"k":0.0011},
{"f":1070,"g":0.0005,"r":0.0001,"b":0.0009,"k":0.0007},
{"f":1080,"g":0.0008,"r":0.0011,"b":0.0013,"k":0.0016},
{"f":1090,"g":0.0006,"r":0.0013,"b":0.0009,"k":0.0019},
{"f":1100,"g":0.0005,"r":0.0009,"b":0.0011,"k":0.0001},
{"f":1110,"g":0.0011,"r":0.0014,"b":0.0016,"k":0.0021},
{"f":1120,"g":0.0007,"r":0.0011,"b":0.008,"k":0.0065},
{"f":1128,"g":0.0009,"r":0.0001,"b":0.0012,"k":0.0018},
{"f":1134,"g":0.0015,"r":0.003,"b":0.004,"k":0.003},
{"f":1140,"g":0.004,"r":0.008,"b":0.015,"k":0.03},
{"f":1146,"g":0.0012,"r":0.0022,"b":0.003,"k":0.004},
{"f":1155,"g":0.0008,"r":0.0015,"b":0.0018,"k":0.0025},
{"f":1165,"g":0.0006,"r":0.0009,"b":0.003,"k":0.0022},
{"f":1175,"g":0.0011,"r":0.0014,"b":0.0015,"k":0.0018},
{"f":1183,"g":0.0007,"r":0.0002,"b":0.0012,"k":0.0015},
{"f":1190,"g":0.0009,"r":0.0015,"b":0.0022,"k":0.023},
{"f":1196,"g":0.0008,"r":0.0012,"b":0.0001,"k":0.0016},
{"f":1205,"g":0.0011,"r":0.0016,"b":0.0018,"k":0.0022},
{"f":1215,"g":0.0009,"r":0.0022,"b":0.0035,"k":0.0028},
{"f":1225,"g":0.0012,"r":0.0018,"b":0.0025,"k":0.0032},
{"f":1235,"g":0.0008,"r":0.0015,"b":0.0021,"k":0.0036},
{"f":1245,"g":0.0006,"r":0.0019,"b":0.0028,"k":0.0031},
{"f":1255,"g":0.0005,"r":0.0014,"b":0.0035,"k":0.0045},
{"f":1265,"g":0.0008,"r":0.0022,"b":0.005,"k":0.009},
{"f":1275,"g":0.0003,"r":0.0012,"b":0.0025,"k":0.0045},
{"f":1285,"g":0.0006,"r":0.0009,"b":0.0018,"k":0.003},
{"f":1295,"g":0.0004,"r":0.0001,"b":0.0012,"k":0.006},
{"f":1305,"g":0.0007,"r":0.0011,"b":0.0014,"k":0.0025},
{"f":1315,"g":0.0009,"r":0.0015,"b":0.0022,"k":0.0036},
{"f":1325,"g":0.0008,"r":0.0019,"b":0.0025,"k":0.004},
{"f":1335,"g":0.0005,"r":0.0012,"b":0.0018,"k":0.0022},
{"f":1345,"g":0.0006,"r":0.0014,"b":0.0011,"k":0.0035},
{"f":1355,"g":0.0004,"r":0.0008,"b":0.0016,"k":0.0028},
{"f":1365,"g":0.0003,"r":0.0011,"b":0.0009,"k":0.0021},
{"f":1375,"g":0.0005,"r":0.0006,"b":0.0012,"k":0.0016},
{"f":1385,"g":0.0002,"r":0.0009,"b":0.0007,"k":0.0013},
{"f":1395,"g":0.0004,"r":0.0008,"b":0.0011,"k":0.0018},
{"f":1405,"g":0.0009,"r":0.0012,"b":0.0015,"k":0.002},
{"f":1412,"g":0.0018,"r":0.0028,"b":0.0025,"k":0.005},
{"f":1420,"g":0.012,"r":0.02,"b":0.015,"k":0.06},
{"f":1425,"g":0.0015,"r":0.0022,"b":0.0001,"k":0.0035},
{"f":1435,"g":0.0008,"r":0.0006,"b":0.0011,"k":0.0021},
{"f":1445,"g":0.0004,"r":0.0009,"b":0.0006,"k":0.0016},
{"f":1455,"g":0.0007,"r":0.0011,"b":0.0009,"k":0.0013},
{"f":1465,"g":0.0015,"r":0.0025,"b":0.003,"k":0.0045},
{"f":1473,"g":0.006,"r":0.008,"b":0.01,"k":0.015},
{"f":1480,"g":0.0012,"r":0.0015,"b":0.002,"k":0.0028},
{"f":1490,"g":0.0006,"r":0.0003,"b":0.0009,"k":0.0018},
{"f":1500,"g":0.0004,"r":0.0002,"b":0.0007,"k":0.0012},
{"f":1510,"g":0.0007,"r":0.0003,"b":0.0009,"k":0.0016},
{"f":1517,"g":0.0011,"r":0.0009,"b":0.0015,"k":0.0035},
{"f":1523,"g":0.2,"r":0.3,"b":0.4,"k":0.57},
{"f":1528,"g":0.0009,"r":0.0007,"b":0.0025,"k":0.0021},
{"f":1535,"g":0.0006,"r":0.0004,"b":0.0011,"k":0.0008},
{"f":1542,"g":0.0003,"r":0.0008,"b":0.0006,"k":0.0003},
{"f":1550,"g":0.0005,"r":0.0007,"b":0.0009,"k":0.0011},
{"f":1560,"g":0.0006,"r":0.0009,"b":0.0008,"k":0.0014},
{"f":1568,"g":0.0025,"r":0.003,"b":0.0035,"k":0.006},
{"f":1574,"g":0.006,"r":0.007,"b":0.006,"k":0.012},
{"f":1580,"g":0.0015,"r":0.0018,"b":0.0022,"k":0.0035},
{"f":1590,"g":0.0004,"r":0.0009,"b":0.0006,"k":0.0018},
{"f":1600,"g":0.0003,"r":0.0005,"b":0.0008,"k":0.0012},
{"f":1610,"g":0.0005,"r":0.0006,"b":0.0004,"k":0.0015},
{"f":1620,"g":0.0009,"r":0.0011,"b":0.0012,"k":0.0022},
{"f":1626,"g":0.006,"r":0.008,"b":0.01,"k":0.014},
{"f":1632,"g":0.0012,"r":0.0015,"b":0.0011,"k":0.0025},
{"f":1640,"g":0.0002,"r":0.0004,"b":0.0001,"k":0.0014},
{"f":1650,"g":0.0003,"r":0.0002,"b":0.0004,"k":0.0011},
{"f":1660,"g":0.0001,"r":0.0003,"b":0.0005,"k":0.0009},
{"f":1670,"g":0.0002,"r":0.0004,"b":0.0003,"k":0.0012},
{"f":1680,"g":0.0003,"r":0.0002,"b":0.0005,"k":0.0008},
{"f":1690,"g":0.0001,"r":0.0004,"b":0.0003,"k":0.0011},
{"f":1700,"g":0.0002,"r":0.0003,"b":0.0004,"k":0.0009},
{"f":1710,"g":0.0003,"r":0.0002,"b":0.0002,"k":0.0012},
{"f":1720,"g":0.0002,"r":0.0005,"b":0.0004,"k":0.001},
{"f":1730,"g":0.0004,"r":0.0003,"b":0.0006,"k":0.0008},
{"f":1740,"g":0.0005,"r":0.0007,"b":0.0004,"k":0.0012},
{"f":1750,"g":0.0003,"r":0.0006,"b":0.0007,"k":0.0009},
{"f":1760,"g":0.0005,"r":0.0004,"b":0.0006,"k":0.0011},
{"f":1770,"g":0.0002,"r":0.0005,"b":0.0003,"k":0.0008},
{"f":1780,"g":0.0004,"r":0.0006,"b":0.0005,"k":0.001},
{"f":1790,"g":0.0006,"r":0.0005,"b":0.0007,"k":0.0013},
{"f":1800,"g":0.0004,"r":0.0007,"b":0.0006,"k":0.0009},
{"f":1810,"g":0.0005,"r":0.0004,"b":0.0013,"k":0.0015},
{"f":1820,"g":0.0003,"r":0.0006,"b":0.0002,"k":0.0011},
{"f":1830,"g":0.0006,"r":0.0005,"b":0.0007,"k":0.0014},
{"f":1840,"g":0.0004,"r":0.0008,"b":0.0006,"k":0.0012},
{"f":1850,"g":0.0007,"r":0.0006,"b":0.0009,"k":0.0016},
{"f":1855,"g":0.0009,"r":0.0012,"b":0.0015,"k":0.03},
{"f":1860,"g":0.0008,"r":0.0009,"b":0.0011,"k":0.0018},
{"f":1870,"g":0.0006,"r":0.0007,"b":0.0008,"k":0.0022},
{"f":1880,"g":0.0005,"r":0.0008,"b":0.0006,"k":0.0028},
{"f":1890,"g":0.0009,"r":0.0012,"b":0.0014,"k":0.0035},
{"f":1897,"g":0.002,"r":0.004,"b":0.004,"k":0.012},
{"f":1903,"g":0.01,"r":0.025,"b":0.02,"k":0.075},
{"f":1908,"g":0.003,"r":0.005,"b":0.004,"k":0.015},
{"f":1915,"g":0.0011,"r":0.0016,"b":0.0013,"k":0.006},
{"f":1925,"g":0.0006,"r":0.0009,"b":0.0011,"k":0.0035},
{"f":1935,"g":0.0005,"r":0.0007,"b":0.0009,"k":0.0021},
{"f":1945,"g":0.0004,"r":0.0006,"b":0.0007,"k":0.0015},
{"f":1953,"g":0.0003,"r":0.0005,"b":0.0009,"k":0.0012},
{"f":1960,"g":0.0008,"r":0.0012,"b":0.0015,"k":0.02},
{"f":1965,"g":0.0005,"r":0.0006,"b":0.0007,"k":0.0011},
{"f":1975,"g":0.0003,"r":0.0005,"b":0.0009,"k":0.0009},
{"f":1985,"g":0.0004,"r":0.0003,"b":0.0006,"k":0.0012},
{"f":1993,"g":0.0002,"r":0.0001,"b":0.0008,"k":0.0007},
{"f":2000,"g":0.0005,"r":0.0004,"b":0.0007,"k":0.0011},
{"f":50,"g":0.0012,"r":0.0022,"b":0.003,"k":0.004},
{"f":70,"g":0.0011,"r":0.0016,"b":0.0021,"k":0.0025},
{"f":80,"g":0.0006,"r":0.0011,"b":0.0015,"k":0.0017},
{"f":90,"g":0.0009,"r":0.0008,"b":0.0012,"k":0.0021},
{"f":100,"g":0.0004,"r":0.0011,"b":0.0009,"k":0.0014},
{"f":110,"g":0.0007,"r":0.0006,"b":0.0012,"k":0.0018},
{"f":120,"g":0.0002,"r":0.0009,"b":0.0007,"k":0.0013},
{"f":130,"g":0.0005,"r":0.0007,"b":0.0012,"k":0.0015},
{"f":140,"g":0.0004,"r":0.0011,"b":0.0009,"k":0.0021},
{"f":150,"g":0.0006,"r":0.0008,"b":0.0013,"k":0.0016},
{"f":160,"g":0.0003,"r":0.0005,"b":0.0011,"k":0.0018},
{"f":170,"g":0.0004,"r":0.0009,"b":0.0007,"k":0.001},
{"f":180,"g":0.0002,"r":0.0007,"b":0.0011,"k":0.0015},
{"f":190,"g":0.0005,"r":0.0004,"b":0.0006,"k":0.0012},
{"f":200,"g":0.0004,"r":0.0011,"b":0.0009,"k":0.0018},
{"f":210,"g":0.0005,"r":0.0003,"b":0.0008,"k":0.001},
{"f":220,"g":0.0003,"r":0.0009,"b":0.0005,"k":0.0016},
{"f":234,"g":0.0002,"r":0.0006,"b":0.0011,"k":0.0012},
{"f":245,"g":0.0004,"r":0.0008,"b":0.0006,"k":0.0021},
{"f":255,"g":0.0007,"r":0.0004,"b":0.0009,"k":0.0011},
{"f":264,"g":0.0003,"r":0.0007,"b":0.0011,"k":0.0018},
{"f":295,"g":0.0006,"r":0.0009,"b":0.0007,"k":0.0015},
{"f":305,"g":0.0003,"r":0.0005,"b":0.0011,"k":0.0009},
{"f":315,"g":0.0005,"r":0.0004,"b":0.0006,"k":0.0013},
{"f":325,"g":0.0004,"r":0.0007,"b":0.0004,"k":0.0008},
{"f":335,"g":0.0002,"r":0.0003,"b":0.0008,"k":0.0011},
{"f":345,"g":0.0003,"r":0.0008,"b":0.0005,"k":0.0006},
{"f":355,"g":0.0001,"r":0.0004,"b":0.0003,"k":0.0009},
{"f":365,"g":0.0004,"r":0.0007,"b":0.0011,"k":0.0021},
{"f":405,"g":0.0009,"r":0.0015,"b":0.0012,"k":0.0042},
{"f":415,"g":0.0002,"r":0.0007,"b":0.0011,"k":0.0021},
{"f":425,"g":0.0005,"r":0.0011,"b":0.0005,"k":0.0016},
{"f":435,"g":0.0002,"r":0.0004,"b":0.0009,"k":0.0013},
{"f":445,"g":0.0004,"r":0.0009,"b":0.0004,"k":0.0011},
{"f":455,"g":0.0003,"r":0.0005,"b":0.0007,"k":0.0016},
{"f":465,"g":0.0001,"r":0.0006,"b":0.0009,"k":0.0008},
{"f":475,"g":0.0004,"r":0.0003,"b":0.0004,"k":0.0013},
{"f":485,"g":0.0003,"r":0.0008,"b":0.0007,"k":0.0009},
{"f":495,"g":0.0002,"r":0.0005,"b":0.0004,"k":0.0012},
{"f":530,"g":0.0007,"r":0.0006,"b":0.0009,"k":0.0016},
{"f":540,"g":0.0004,"r":0.0011,"b":0.0006,"k":0.0024},
{"f":550,"g":0.0006,"r":0.0005,"b":0.0011,"k":0.0016},
{"f":560,"g":0.0003,"r":0.0008,"b":0.0007,"k":0.0021},
{"f":570,"g":0.0004,"r":0.0006,"b":0.0009,"k":0.0015},
{"f":580,"g":0.0005,"r":0.0009,"b":0.0006,"k":0.0018},
{"f":590,"g":0.0003,"r":0.0007,"b":0.0009,"k":0.0023},
{"f":600,"g":0.0005,"r":0.0008,"b":0.0011,"k":0.0017},
{"f":610,"g":0.0004,"r":0.0011,"b":0.0009,"k":0.0026},
{"f":620,"g":0.0006,"r":0.0007,"b":0.0011,"k":0.0019},
{"f":645,"g":0.0005,"r":0.0009,"b":0.0013,"k":0.0052},
{"f":655,"g":0.0008,"r":0.0011,"b":0.0016,"k":0.0041},
{"f":665,"g":0.0005,"r":0.0013,"b":0.0014,"k":0.0048},
{"f":675,"g":0.0006,"r":0.0012,"b":0.0017,"k":0.0039},
{"f":685,"g":0.0007,"r":0.0015,"b":0.0016,"k":0.0046},
{"f":695,"g":0.0009,"r":0.0014,"b":0.0019,"k":0.0051},
{"f":704,"g":0.0008,"r":0.0017,"b":0.0022,"k":0.0045},
{"f":720,"g":0.0024,"r":0.0027,"b":0.0031,"k":0.0062},
{"f":730,"g":0.0026,"r":0.0032,"b":0.0037,"k":0.0056},
{"f":740,"g":0.0031,"r":0.0038,"b":0.0046,"k":0.0072},
{"f":790,"g":0.0028,"r":0.004,"b":0.005,"k":0.01},
{"f":800,"g":0.0021,"r":0.003,"b":0.004,"k":0.0085},
{"f":820,"g":0.0007,"r":0.0016,"b":0.0015,"k":0.0024},
{"f":830,"g":0.0006,"r":0.0014,"b":0.0017,"k":0.0028},
{"f":840,"g":0.0006,"r":0.0012,"b":0.0014,"k":0.0022},
{"f":850,"g":0.0008,"r":0.0013,"b":0.0016,"k":0.0032},
{"f":885,"g":0.0009,"r":0.0007,"b":0.0018,"k":0.0022},
{"f":895,"g":0.0011,"r":0.0012,"b":0.001,"k":0.0014},
{"f":905,"g":0.0008,"r":0.0006,"b":0.0014,"k":0.0011},
{"f":915,"g":0.0012,"r":0.0011,"b":0.0008,"k":0.0018},
{"f":925,"g":0.0007,"r":0.0009,"b":0.0013,"k":0.0012},
{"f":935,"g":0.0009,"r":0.0006,"b":0.0007,"k":0.0009},
{"f":945,"g":0.0005,"r":0.0009,"b":0.0011,"k":0.0008},
{"f":980,"g":0.0006,"r":0.0009,"b":0.0005,"k":0.0013},
{"f":990,"g":0.0003,"r":0.0005,"b":0.0009,"k":0.0007},
{"f":1000,"g":0.0008,"r":0.0012,"b":0.0006,"k":0.0016},
{"f":1010,"g":0.0005,"r":0.0006,"b":0.0012,"k":0.0011},
{"f":1020,"g":0.0004,"r":0.0011,"b":0.0008,"k":0.0018},
{"f":1030,"g":0.0009,"r":0.0005,"b":0.0011,"k":0.0009},
{"f":1040,"g":0.0008,"r":0.0015,"b":0.0012,"k":0.0025},
{"f":1075,"g":0.0003,"r":0.0007,"b":0.0011,"k":0.0019},
{"f":1085,"g":0.0009,"r":0.0005,"b":0.0014,"k":0.0011},
{"f":1095,"g":0.0004,"r":0.0011,"b":0.0006,"k":0.0021},
{"f":1105,"g":0.0008,"r":0.0006,"b":0.0013,"k":0.0016},
{"f":1115,"g":0.0006,"r":0.0009,"b":0.0012,"k":0.0014},
{"f":1160,"g":0.0009,"r":0.0011,"b":0.0014,"k":0.0028},
{"f":1170,"g":0.0005,"r":0.0016,"b":0.0011,"k":0.0016},
{"f":1180,"g":0.0008,"r":0.0008,"b":0.0017,"k":0.0021},
{"f":1200,"g":0.0007,"r":0.0013,"b":0.0015,"k":0.0019},
{"f":1210,"g":0.0012,"r":0.0011,"b":0.0021,"k":0.0035},
{"f":1220,"g":0.0007,"r":0.0016,"b":0.0018,"k":0.0026},
{"f":1230,"g":0.0009,"r":0.0012,"b":0.0028,"k":0.0042},
{"f":1240,"g":0.0006,"r":0.0021,"b":0.0019,"k":0.0028},
{"f":1250,"g":0.0007,"r":0.0011,"b":0.0025,"k":0.0039},
{"f":1260,"g":0.0004,"r":0.0016,"b":0.0032,"k":0.0055},
{"f":1270,"g":0.0006,"r":0.0009,"b":0.0021,"k":0.0035},
{"f":1280,"g":0.0004,"r":0.0014,"b":0.0015,"k":0.0041},
{"f":1290,"g":0.0007,"r":0.0007,"b":0.0021,"k":0.0026},
{"f":1300,"g":0.0005,"r":0.0009,"b":0.0011,"k":0.0032},
{"f":1310,"g":0.0008,"r":0.0013,"b":0.0018,"k":0.0028},
{"f":1320,"g":0.0006,"r":0.0011,"b":0.0027,"k":0.0045},
{"f":1330,"g":0.0007,"r":0.0016,"b":0.0019,"k":0.0031},
{"f":1340,"g":0.0004,"r":0.0009,"b":0.0015,"k":0.0042},
{"f":1350,"g":0.0005,"r":0.0012,"b":0.0021,"k":0.0025},
{"f":1360,"g":0.0006,"r":0.0007,"b":0.0011,"k":0.0033},
{"f":1370,"g":0.0002,"r":0.0009,"b":0.0014,"k":0.0019},
{"f":1380,"g":0.0004,"r":0.0007,"b":0.0008,"k":0.0022},
{"f":1390,"g":0.0003,"r":0.0011,"b":0.0012,"k":0.0015},
{"f":1400,"g":0.0006,"r":0.0009,"b":0.0016,"k":0.0024},
{"f":1440,"g":0.0005,"r":0.0011,"b":0.0008,"k":0.0026},
{"f":1450,"g":0.0006,"r":0.0005,"b":0.0012,"k":0.0018},
{"f":1460,"g":0.0009,"r":0.0016,"b":0.0014,"k":0.0025},
{"f":1485,"g":0.0008,"r":0.0009,"b":0.0013,"k":0.0021},
{"f":1495,"g":0.0005,"r":0.0006,"b":0.0011,"k":0.0015},
{"f":1505,"g":0.0006,"r":0.0004,"b":0.0006,"k":0.0019},
{"f":1545,"g":0.0004,"r":0.0005,"b":0.0009,"k":0.0006},
{"f":1555,"g":0.0007,"r":0.0006,"b":0.0011,"k":0.0016},
{"f":1585,"g":0.0007,"r":0.0011,"b":0.0009,"k":0.0021},
{"f":1595,"g":0.0005,"r":0.0007,"b":0.0004,"k":0.0013},
{"f":1605,"g":0.0004,"r":0.0009,"b":0.0006,"k":0.0018},
{"f":1615,"g":0.0006,"r":0.0008,"b":0.0009,"k":0.0016},
{"f":1645,"g":0.0003,"r":0.0006,"b":0.0004,"k":0.0012},
{"f":1655,"g":0.0001,"r":0.0003,"b":0.0002,"k":0.0015},
{"f":1665,"g":0.0003,"r":0.0002,"b":0.0004,"k":0.0008},
{"f":1675,"g":0.0002,"r":0.0005,"b":0.0002,"k":0.0013},
{"f":1685,"g":0.0004,"r":0.0003,"b":0.0006,"k":0.0009},
{"f":1695,"g":0.0002,"r":0.0002,"b":0.0004,"k":0.0014},
{"f":1705,"g":0.0004,"r":0.0005,"b":0.0003,"k":0.001},
{"f":1715,"g":0.0001,"r":0.0003,"b":0.0005,"k":0.0011},
{"f":1725,"g":0.0003,"r":0.0002,"b":0.0003,"k":0.0013},
{"f":1735,"g":0.0002,"r":0.0004,"b":0.0005,"k":0.0009},
{"f":1745,"g":0.0004,"r":0.0005,"b":0.0007,"k":0.0014},
{"f":1755,"g":0.0005,"r":0.0008,"b":0.0005,"k":0.001},
{"f":1765,"g":0.0003,"r":0.0003,"b":0.0008,"k":0.0012},
{"f":1775,"g":0.0005,"r":0.0006,"b":0.0004,"k":0.0009},
{"f":1785,"g":0.0003,"r":0.0004,"b":0.0006,"k":0.0011},
{"f":1795,"g":0.0005,"r":0.0008,"b":0.0005,"k":0.001},
{"f":1805,"g":0.0003,"r":0.0005,"b":0.0004,"k":0.0012},
{"f":1815,"g":0.0004,"r":0.0007,"b":0.0007,"k":0.0013},
{"f":1825,"g":0.0005,"r":0.0004,"b":0.0005,"k":0.0016},
{"f":1835,"g":0.0003,"r":0.0006,"b":0.0009,"k":0.0011},
{"f":1845,"g":0.0006,"r":0.0005,"b":0.0006,"k":0.0015},
{"f":1865,"g":0.0004,"r":0.0009,"b":0.0007,"k":0.0019},
{"f":1875,"g":0.0007,"r":0.0006,"b":0.0009,"k":0.0025},
{"f":1885,"g":0.0006,"r":0.001,"b":0.0008,"k":0.003},
{"f":1920,"g":0.0007,"r":0.0011,"b":0.0009,"k":0.0042},
{"f":1930,"g":0.0004,"r":0.0008,"b":0.0007,"k":0.0026},
{"f":1940,"g":0.0005,"r":0.0005,"b":0.0008,"k":0.0018},
{"f":1950,"g":0.0003,"r":0.0007,"b":0.0006,"k":0.0014},
{"f":1970,"g":0.0004,"r":0.0004,"b":0.0006,"k":0.0011},
{"f":1980,"g":0.0002,"r":0.0006,"b":0.0005,"k":0.0013},
{"f":1990,"g":0.0004,"r":0.0003,"b":0.0007,"k":0.0009}
],
"arr1":[{"f":345,"v":0.0686,"v2":0.0166},{"f":697,"v":1.27,"v2":0.308},{"f":1045,"v":2.42,"v2":0.562},{"f":1395,"v":4.42,"v2":1.03},{"f":1752,"v":0.612,"v2":0.176}],
"head1":[{"f":345,"v":0.0166},{"f":697,"v":0.308},{"f":1045,"v":0.562},{"f":1395,"v":1.03},{"f":1752,"v":0.176}],
"lab1":[{"f":359,"v":0.115,"t":"BP"},{"f":768,"v":1.51,"t":"2*BP"},{"f":1124,"v":2.75,"t":"3*BP"},{"f":1479,"v":2.04,"t":"4*BP"},{"f":1740,"v":1.12,"t":"5*BP"}],
"arr2":[{"f":381,"v":0.14,"v2":0.0352},{"f":1137,"v":0.235,"v2":0.0542},{"f":1522,"v":3.12,"v2":0.785},{"f":1900,"v":0.411,"v2":0.113}],
"head2":[{"f":381,"v":0.0352},{"f":1137,"v":0.0542},{"f":1522,"v":0.785},{"f":1900,"v":0.113}],
"lab2":[{"f":361,"v":0.198,"t":"BP"},{"f":688,"v":2.74,"t":"2*BPF"},{"f":1145,"v":0.361,"t":"3*BPF"},{"f":1548,"v":3.71,"t":"4*BPF"},{"f":1816,"v":0.153,"t":"5*B"}]
},
"resolve":{"scale":{"color":"independent"},"legend":{"color":"independent"}},
"vconcat":[
{
 "width":1136,"height":268,
 "encoding":{
  "x":{"field":"f","type":"quantitative","title":"Frequency [Hz]","scale":{"domain":[0,2000],"nice":false,"zero":false},"axis":{"values":[0,200,400,600,800,1000,1200,1400,1600,1800,2000],"format":"d"}},
  "y":{"field":"v","type":"quantitative","title":"Pressure amplitude [mWC]","scale":{"type":"log","domain":[0.0001,10],"nice":false},"axis":{"values":[0.0001,0.001,0.01,0.1,1,10],"format":"~g"}}
 },
 "layer":[
  {"data":{"name":"p1"},"transform":[{"fold":["g","r","b","k"],"as":["s","v"]}],
   "mark":{"type":"line","strokeWidth":1,"clip":true},
   "encoding":{"color":{"field":"s","type":"nominal","scale":{"domain":["g","r","b","k"],"range":["#008000","#ff0000","#0000ff","#000000"]},"legend":{"title":null,"labelExpr":"datum.label == 'g' ? 'BP5' : datum.label == 'r' ? 'BP10' : datum.label == 'b' ? 'BP15' : 'BP19'"}}}},
  {"data":{"name":"arr1"},"mark":{"type":"rule","color":"#0000ff","strokeWidth":2},"encoding":{"y2":{"field":"v2"}}},
  {"data":{"name":"head1"},"mark":{"type":"point","shape":"triangle-down","filled":true,"size":100,"color":"#0000ff","opacity":1,"yOffset":-4}},
  {"data":{"name":"lab1"},"mark":{"type":"text","font":"Liberation Serif","fontWeight":"bold","fontSize":21,"color":"#0000ff","baseline":"alphabetic","align":"center"},"encoding":{"text":{"field":"t"}}},
  {"data":{"values":[{"f":26,"v":2.32,"t":"2*BPF=700"}]},"mark":{"type":"text","font":"Liberation Serif","fontWeight":"bold","fontSize":32,"color":"#0000ff","baseline":"alphabetic","align":"left"},"encoding":{"text":{"field":"t"}}}
 ]
},
{
 "width":1136,"height":268,
 "encoding":{
  "x":{"field":"f","type":"quantitative","title":"Frequency [Hz]","scale":{"domain":[0,2000],"nice":false,"zero":false},"axis":{"values":[0,200,400,600,800,1000,1200,1400,1600,1800,2000],"format":"d"}},
  "y":{"field":"v","type":"quantitative","title":"Pressure amplitude [mWC]","scale":{"type":"log","domain":[0.0001,10],"nice":false},"axis":{"values":[0.0001,0.001,0.01,0.1,1,10],"format":"~g","labelExpr":"datum.value == 1 ? '' : datum.label"}}
 },
 "layer":[
  {"data":{"name":"p2"},"transform":[{"fold":["g","r","b","k"],"as":["s","v"]}],
   "mark":{"type":"line","strokeWidth":1,"clip":true},
   "encoding":{"color":{"field":"s","type":"nominal","scale":{"domain":["g","r","b","k"],"range":["#008000","#ff0000","#0000ff","#000000"]},"legend":{"title":null,"labelExpr":"datum.label == 'g' ? 'BP5' : datum.label == 'r' ? 'BP10' : datum.label == 'b' ? 'BP15' : 'BP19'"}}}},
  {"data":{"name":"arr2"},"mark":{"type":"rule","color":"#0000ff","strokeWidth":2},"encoding":{"y2":{"field":"v2"}}},
  {"data":{"name":"head2"},"mark":{"type":"point","shape":"triangle-down","filled":true,"size":100,"color":"#0000ff","opacity":1,"yOffset":-4}},
  {"data":{"values":[{"f":674,"f2":728,"v":1.71}]},"mark":{"type":"rule","color":"#0000ff","strokeWidth":2},"encoding":{"x2":{"field":"f2"}}},
  {"data":{"values":[{"f":734,"v":1.71}]},"mark":{"type":"point","shape":"triangle-right","filled":true,"size":100,"color":"#0000ff","opacity":1,"xOffset":-4}},
  {"data":{"name":"lab2"},"mark":{"type":"text","font":"Liberation Serif","fontWeight":"bold","fontSize":21,"color":"#0000ff","baseline":"alphabetic","align":"center"},"encoding":{"text":{"field":"t"}}},
  {"data":{"values":[{"f":28,"v":2.41,"t":"2*BPF=762"},{"f":-35,"v":0.48,"t":"Hz"}]},"mark":{"type":"text","font":"Liberation Serif","fontWeight":"bold","fontSize":32,"color":"#0000ff","baseline":"alphabetic","align":"left"},"encoding":{"text":{"field":"t"}}}
 ]
}
]
}
